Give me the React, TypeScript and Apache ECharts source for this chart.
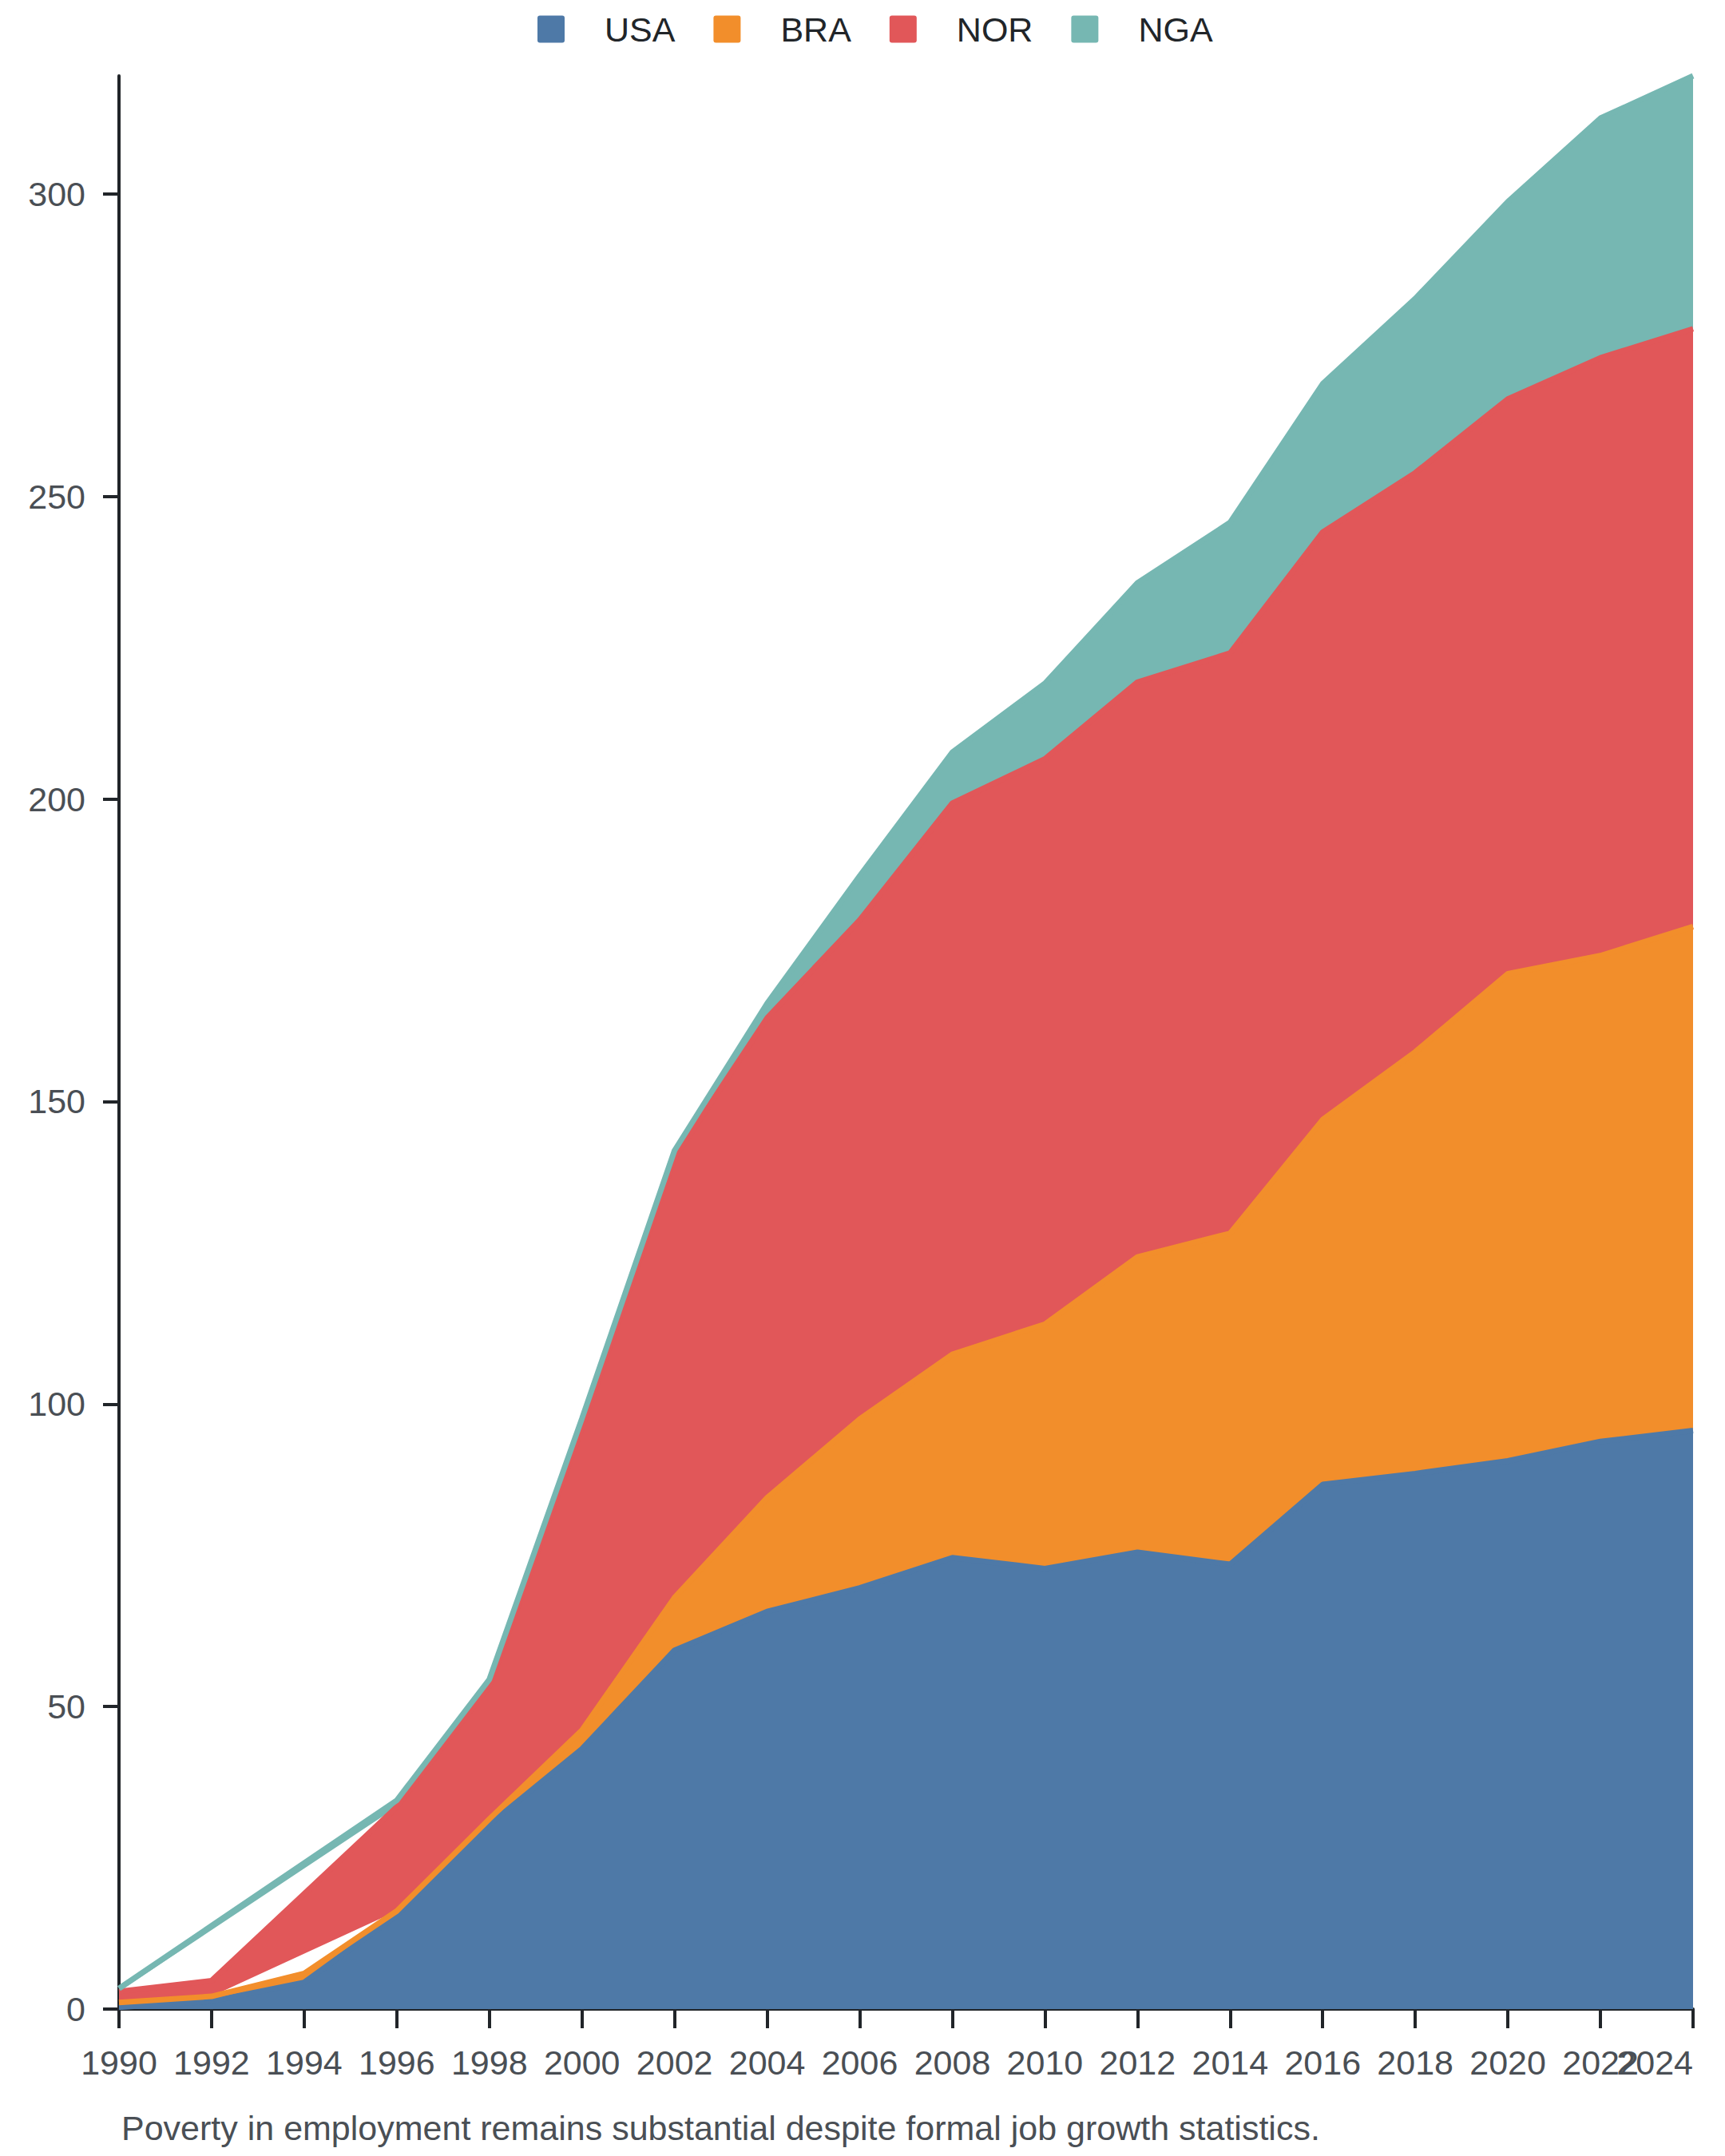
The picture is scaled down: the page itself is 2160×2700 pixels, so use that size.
import React, { useEffect, useRef } from "react";
import * as echarts from "echarts";

const years = [
  "1990", "1992", "1994", "1996", "1998", "2000", "2002", "2004", "2006",
  "2008", "2010", "2012", "2014", "2016", "2018", "2020", "2022", "2024",
];
const countries = ["USA", "BRA", "NOR", "NGA"];
const colors = ["#4e79a7", "#f28e2b", "#e15759", "#76b7b2"];
const yTicks = [0, 50, 100, 150, 200, 250, 300];

// null = no value reported that year
const usa = [0.3, 1.3, 4.4, 15.5, 30.5, 43.0, 59.3, 65.7, 69.6, 74.6, 72.8, 75.5, 73.5, 86.7, 88.5, 90.6, 93.8, 95.6];
const bra = [0.8, 0.8, 1.5, 0.7, 0.9, 3.1, 8.7, 18.8, 27.9, 33.6, 40.4, 48.8, 54.7, 60.3, 69.7, 80.5, 80.3, 83.3];
const nor = [1.8, 2.6, null, 17.2, 22.0, 50.0, 72.7, 79.3, 82.5, 91.1, 93.4, 95.0, 95.9, 97.1, 95.7, 95.0, 98.8, 98.8];
const nga = [0.5, null, null, 1.1, 1.1, 1.5, 1.2, 2.4, 7.3, 8.4, 12.5, 16.4, 21.6, 24.5, 28.8, 32.6, 39.6, 41.8];

const caption = "Poverty in employment remains substantial despite formal job growth statistics.";
const font = "'Liberation Sans', Arial, sans-serif";
// square with slightly rounded corners
const legendIcon =
  "path://M3,0H31A3,3 0 0 1 34,3V31A3,3 0 0 1 31,34H3A3,3 0 0 1 0,31V3A3,3 0 0 1 3,0Z";

const App: React.FC = () => {
  const chartRef = useRef<HTMLDivElement>(null);

  useEffect(() => {
    const chart = echarts.init(chartRef.current, null, { renderer: "svg" });
    const values = [usa, bra, nor, nga];
    const options = {
      animation: false,
      color: colors,
      textStyle: { fontFamily: font },
      legend: {
        top: 10,
        left: 668,
        icon: legendIcon,
        itemWidth: 34,
        itemHeight: 34,
        itemGap: 48,
        textStyle: { fontSize: 43, color: "#212529", fontFamily: font, padding: [0, 0, 0, 45] },
        data: countries,
      },
      grid: {
        left: 149,
        right: 40,
        top: 95,
        bottom: 184,
        containLabel: false,
        outerBoundsMode: "none",
      },
      xAxis: {
        type: "category",
        boundaryGap: false,
        data: years,
        axisLine: { lineStyle: { color: "#212529", width: 4 } },
        axisTick: { show: true, length: 24, interval: 0, lineStyle: { color: "#212529", width: 4 } },
        axisLabel: {
          interval: 0,
          fontSize: 43,
          color: "#4a4f55",
          margin: 45,
          fontFamily: font,
          alignMaxLabel: "right",
        },
        splitLine: { show: false },
      },
      yAxis: {
        type: "value",
        min: 0,
        max: "dataMax",
        interval: 50,
        axisLine: { show: true, lineStyle: { color: "#212529", width: 4 } },
        axisTick: { show: true, length: 20, customValues: yTicks, lineStyle: { color: "#212529", width: 4 } },
        axisLabel: { fontSize: 43, color: "#4a4f55", margin: 42, fontFamily: font, customValues: yTicks },
        splitLine: { show: false },
      },
      graphic: [
        {
          type: "text",
          left: 152,
          top: 2643,
          style: { text: caption, fontSize: 43, fill: "#4a4f55", fontFamily: font },
        },
      ],
      series: countries.map((name, i) => ({
        name,
        type: "line",
        stack: "total",
        // years without a value are left out, so the line joins its neighbours
        data: years
          .map((yr, j) => [yr, values[i][j]])
          .filter((p) => p[1] !== null),
        symbol: "none",
        showSymbol: false,
        lineStyle: { width: 7, color: colors[i] },
        areaStyle: { color: colors[i], opacity: 1 },
        itemStyle: { color: colors[i] },
      })),
    };
    chart.setOption(options);
    return () => {
      chart.dispose();
    };
  }, []);

  return (
    <div
      ref={chartRef}
      style={{ position: "absolute", left: 0, top: 0, width: 2160, height: 2700 }}
    ></div>
  );
};

export default App;
